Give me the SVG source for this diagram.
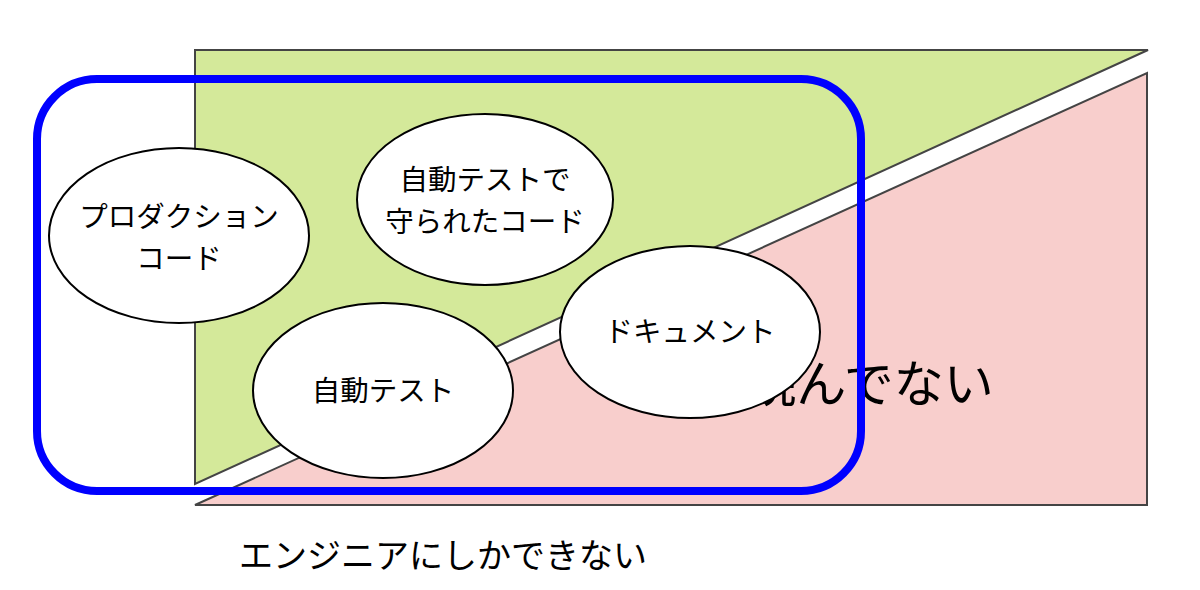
<svg xmlns="http://www.w3.org/2000/svg" width="1200" height="590" viewBox="0 0 1200 590">
<style>
.tri{stroke:#444;stroke-width:2;stroke-linejoin:miter}
.node ellipse{fill:#fff;stroke:#000;stroke-width:2}
.t{font-family:"Noto Sans CJK JP","Noto Sans",sans-serif;fill:#000;text-anchor:middle}
.nt{font-size:28.5px}
</style>
<rect width="1200" height="590" fill="#fff"/>
<g id="zones">
<polygon id="green" class="tri" points="195,50 1148,50 195,484" fill="#d4e99a"/>
<polygon id="pink" class="tri" points="195,505 1147,505 1147,73" fill="#f8cecc"/>
<text class="t" x="870" y="402" font-size="50">読んでない</text>
</g>
<g id="group-frame">
<rect x="37" y="79" width="824" height="412" rx="60" ry="60" fill="none" stroke="#0000ff" stroke-width="8"/>
</g>
<g id="connectors"></g>
<g id="node-production" class="node">
<ellipse cx="179" cy="235.5" rx="130" ry="87.5"/>
<text class="t nt" x="179" y="227">プロダクション<tspan x="179" dy="41.5">コード</tspan></text>
</g>
<g id="node-protected" class="node">
<ellipse cx="485" cy="199.5" rx="128" ry="85.5"/>
<text class="t nt" x="485" y="190">自動テストで<tspan x="485" dy="41.5">守られたコード</tspan></text>
</g>
<g id="node-autotest" class="node">
<ellipse cx="383" cy="390.5" rx="130" ry="87.5"/>
<text class="t nt" x="383" y="401">自動テスト</text>
</g>
<g id="node-document" class="node">
<ellipse cx="690" cy="332" rx="130" ry="86"/>
<text class="t nt" x="690" y="342">ドキュメント</text>
</g>
<text class="t" x="443" y="568" font-size="34">エンジニアにしかできない</text>
</svg>
